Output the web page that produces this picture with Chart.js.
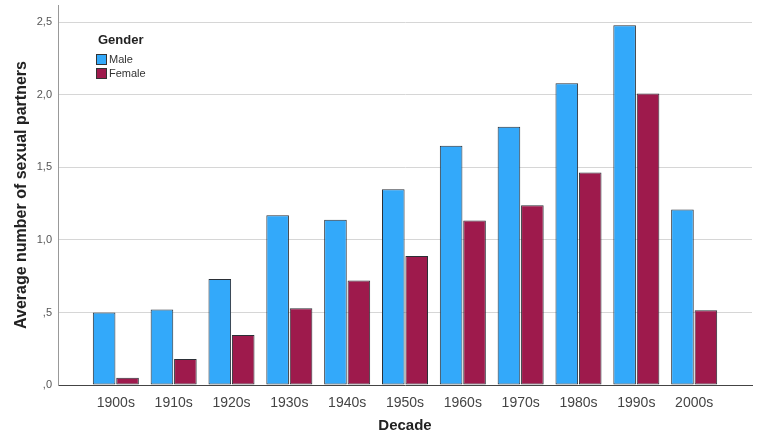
<!DOCTYPE html>
<html>
<head>
<meta charset="utf-8">
<script src="https://cdn.jsdelivr.net/npm/chart.js@4"></script>
<style>
  body { margin: 0; background: #fff; }
  #wrap { width: 764px; height: 439px; }
</style>
</head>
<body>
<div id="wrap"><canvas id="myChart"></canvas></div>
<script>
var decades = ['', '1900s', '1910s', '1920s', '1930s', '1940s', '1950s', '1960s', '1970s', '1980s', '1990s', '2000s', ''];
var male = [null, 0.50, 0.52, 0.73, 1.17, 1.14, 1.35, 1.65, 1.78, 2.08, 2.48, 1.21, null];
var female = [null, 0.05, 0.18, 0.345, 0.53, 0.72, 0.89, 1.135, 1.24, 1.465, 2.01, 0.515, null];
var y_ticks = [0, 0.5, 1.0, 1.5, 2.0, 2.5];
var y_labels = [',0', ',5', '1,0', '1,5', '2,0', '2,5'];
var font_family = "'Liberation Sans', Arial, sans-serif";

// legend drawn inside the plot, top left
var innerLegend = {
    id: 'innerLegend',
    afterDraw: function (chart) {
        var ctx = chart.ctx;
        var area = chart.chartArea;
        var x = area.left + 40;
        var y = area.top + 35;
        ctx.save();
        ctx.fillStyle = '#222';
        ctx.font = 'bold 13px ' + font_family;
        ctx.textBaseline = 'middle';
        ctx.fillText('Gender', x, y);
        chart.data.datasets.forEach(function (ds, i) {
            var yy = Math.round(y + 19 + i * 13.5);
            ctx.fillStyle = ds.backgroundColor;
            ctx.fillRect(x - 1.5, yy - 4.5, 10, 10);
            ctx.strokeStyle = '#333';
            ctx.lineWidth = 1;
            ctx.strokeRect(x - 1.5, yy - 4.5, 10, 10);
            ctx.fillStyle = '#333';
            ctx.font = '11px ' + font_family;
            ctx.fillText(ds.label, x + 11, yy + 1);
        });
        ctx.restore();
    }
};

var ctx = document.getElementById('myChart').getContext('2d');
var chart = new Chart(ctx, {
    type: 'bar',
    data: {
        labels: decades,
        datasets: [
            {
                label: 'Male',
                data: male,
                backgroundColor: '#33A9FA',
                borderColor: '#2b2f36',
                borderWidth: 1,
                borderSkipped: false,
                categoryPercentage: 0.81,
                barPercentage: 0.965
            },
            {
                label: 'Female',
                data: female,
                backgroundColor: '#9E1A4C',
                borderColor: '#2b2f36',
                borderWidth: 1,
                borderSkipped: false,
                categoryPercentage: 0.81,
                barPercentage: 0.965
            }
        ]
    },
    options: {
        responsive: true,
        maintainAspectRatio: false,
        animation: false,
        layout: { padding: { top: 5, right: 12, left: 0, bottom: 0 } },
        scales: {
            x: {
                offset: false,
                grid: { display: false },
                border: { color: '#444', width: 1 },
                ticks: {
                    color: '#444',
                    font: { family: font_family, size: 14 },
                    maxRotation: 0,
                    autoSkip: false,
                    padding: 2
                },
                title: {
                    display: true,
                    text: 'Decade',
                    color: '#222',
                    font: { family: font_family, size: 15, weight: 'bold' },
                    padding: { top: 10 }
                },
                afterFit: function (scale) { scale.height = 54; }
            },
            y: {
                min: 0,
                max: 2.62,
                afterBuildTicks: function (axis) {
                    axis.ticks = y_ticks.map(function (v) { return { value: v }; });
                },
                grid: {
                    color: function (c) { return c.tick && c.tick.value === 0 ? 'rgba(0,0,0,0)' : '#d6d6d6'; },
                    drawTicks: false,
                    lineWidth: 1
                },
                border: { color: '#999', width: 1 },
                ticks: {
                    color: '#555',
                    font: { family: font_family, size: 11 },
                    padding: 6,
                    callback: function (v) {
                        var i = y_ticks.indexOf(v);
                        return i >= 0 ? y_labels[i] : '';
                    }
                },
                title: {
                    display: true,
                    text: 'Average number of sexual partners',
                    color: '#222',
                    font: { family: font_family, size: 16, weight: 'bold' },
                    padding: { top: 12, bottom: 6 }
                },
                afterFit: function (scale) {
                    scale.width = 58;
                    scale.paddingTop = 0;
                    scale.paddingBottom = 0;
                }
            }
        },
        plugins: {
            legend: { display: false },
            tooltip: { enabled: false }
        }
    },
    plugins: [innerLegend]
});
</script>
</body>
</html>
